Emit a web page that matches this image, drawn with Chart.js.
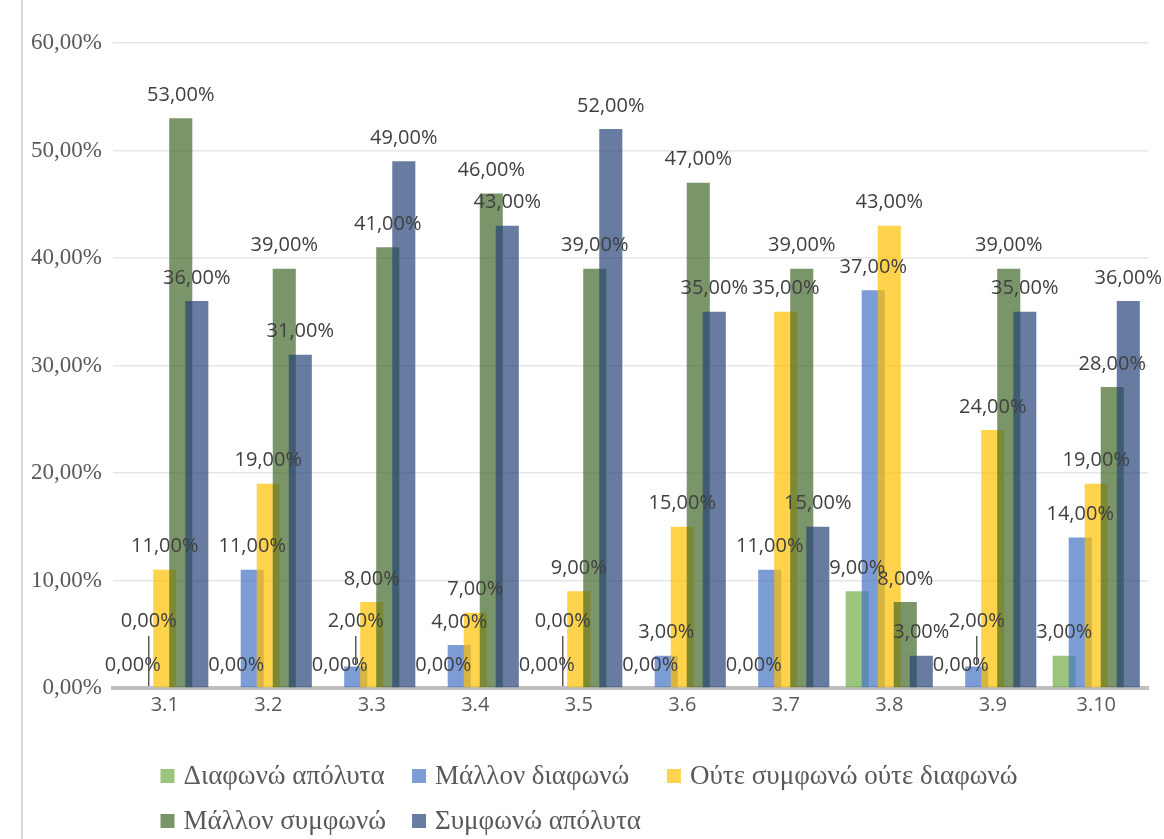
<!DOCTYPE html>
<html>
<head>
<meta charset="utf-8">
<script src="https://cdn.jsdelivr.net/npm/chart.js@4.4.1/dist/chart.umd.min.js"></script>
<style>
  html, body { margin: 0; padding: 0; background: #ffffff; }
  #wrap { width: 1164px; height: 839px; position: relative; }
  canvas { display: block; }
</style>
</head>
<body>
<div id="wrap"><canvas id="c" width="1164" height="839"></canvas></div>
<script>
// ---- data ----
const categories = ['3.1', '3.2', '3.3', '3.4', '3.5', '3.6', '3.7', '3.8', '3.9', '3.10'];
const seriesNames = ['Διαφωνώ απόλυτα', 'Μάλλον διαφωνώ', 'Ούτε συμφωνώ ούτε διαφωνώ', 'Μάλλον συμφωνώ', 'Συμφωνώ απόλυτα'];
const disagreeFully = [0, 0, 0, 0, 0, 0, 0, 9, 0, 3];
const ratherDisagree = [0, 11, 2, 4, 0, 3, 11, 37, 2, 14];
const neitherNor = [11, 19, 8, 7, 9, 15, 35, 43, 24, 19];
const ratherAgree = [53, 39, 41, 46, 39, 47, 39, 8, 39, 28];
const agreeFully = [36, 31, 49, 43, 52, 35, 15, 3, 35, 36];
const yTickValues = [0, 10, 20, 30, 40, 50, 60];

const seriesValues = [disagreeFully, ratherDisagree, neitherNor, ratherAgree, agreeFully];
const seriesColors = [
  'rgba(112,173,71,0.7)',
  'rgba(68,114,196,0.7)',
  'rgba(255,192,0,0.7)',
  'rgba(67,104,43,0.7)',
  'rgba(38,68,120,0.7)'
];

const fmt = v => v.toFixed(2).replace('.', ',') + '%';

const datasets = seriesNames.map((name, k) => ({
  label: name,
  data: seriesValues[k],
  backgroundColor: seriesColors[k],
  borderWidth: 0,
  categoryPercentage: 0.774,
  barPercentage: 1.44
}));

const frameLine = {
  id: 'frameLine',
  beforeDraw(chart) {
    const ctx = chart.ctx;
    ctx.save();
    ctx.fillStyle = '#ffffff';
    ctx.fillRect(0, 0, chart.width, chart.height);
    ctx.strokeStyle = '#d9d9d9';
    ctx.lineWidth = 2;
    ctx.beginPath();
    ctx.moveTo(22, 0);
    ctx.lineTo(22, chart.height);
    ctx.stroke();
    ctx.restore();
  }
};

function drawValueLabels(chart) {
  const ctx = chart.ctx;
  ctx.save();
  ctx.font = '20px "Open Sans"';
  ctx.textAlign = 'center';
  ctx.textBaseline = 'middle';
  const h = 24, gap = 20;
  for (let i = 0; i < categories.length; i++) {
    const placed = [];
    for (let d = 0; d < chart.data.datasets.length; d++) {
      const el = chart.getDatasetMeta(d).data[i];
      const v = chart.data.datasets[d].data[i];
      const text = fmt(v);
      const w = ctx.measureText(text).width;
      const natural = el.y - 23;
      let cy = natural;
      let moved = true;
      while (moved) {
        moved = false;
        for (const p of placed) {
          const ho = Math.min(el.x + w / 2, p.r) - Math.max(el.x - w / 2, p.l);
          const vo = (cy - h / 2 < p.b) && (cy + h / 2 > p.t);
          if (ho > 0.5 * w && vo) {
            cy = p.t - gap - h / 2;
            moved = true;
          }
        }
      }
      if (natural - cy > 15) {
        ctx.strokeStyle = '#595959';
        ctx.lineWidth = 1.5;
        ctx.beginPath();
        ctx.moveTo(el.x, cy + h / 2 + 3);
        ctx.lineTo(el.x, el.y - 2);
        ctx.stroke();
      }
      ctx.fillStyle = '#404040';
      ctx.fillText(text, el.x, cy);
      placed.push({ l: el.x - w / 2, r: el.x + w / 2, t: cy - h / 2, b: cy + h / 2 });
    }
  }
  ctx.restore();
}

// draw series in index order so later series overlap earlier ones, then the value labels
const seriesOrder = {
  id: 'seriesOrder',
  beforeDatasetsDraw(chart) {
    const ctx = chart.ctx;
    const a = chart.chartArea;
    ctx.save();
    ctx.beginPath();
    ctx.rect(a.left, a.top - 60, a.right - a.left, a.bottom - a.top + 60);
    ctx.clip();
    for (let d = 0; d < chart.data.datasets.length; d++) {
      const meta = chart.getDatasetMeta(d);
      if (meta.visible !== false) meta.controller.draw();
    }
    ctx.restore();
    drawValueLabels(chart);
    return false;
  }
};

const customLegend = {
  id: 'customLegend',
  afterDraw(chart) {
    const ctx = chart.ctx;
    ctx.save();
    ctx.font = '27px "Liberation Serif"';
    ctx.textBaseline = 'middle';
    ctx.textAlign = 'left';
    const rows = [[0, 1, 2], [3, 4]];
    const box = 14, boxGap = 9, spacing = 26;
    const itemW = idx => box + boxGap + ctx.measureText(chart.data.datasets[idx].label).width;
    const colW = [];
    rows.forEach(r => r.forEach((idx, c) => { colW[c] = Math.max(colW[c] || 0, itemW(idx)); }));
    let total = 0;
    colW.forEach((w, c) => { total += w + (c < colW.length - 1 ? spacing : 0); });
    const startX = 589 - total / 2;
    const rowY = [chart.chartArea.bottom + 88, chart.chartArea.bottom + 133];
    rows.forEach((r, ri) => {
      let x = startX;
      r.forEach((idx, c) => {
        const ds = chart.data.datasets[idx];
        ctx.fillStyle = ds.backgroundColor;
        ctx.fillRect(x, rowY[ri] - box / 2, box, box);
        ctx.fillStyle = '#595959';
        ctx.fillText(ds.label, x + box + boxGap, rowY[ri] + 1);
        x += colW[c] + spacing;
      });
    });
    ctx.restore();
  }
};

new Chart(document.getElementById('c'), {
  type: 'bar',
  data: { labels: categories, datasets },
  options: {
    responsive: false,
    devicePixelRatio: 1,
    animation: false,
    layout: { padding: { top: 43, right: 16, left: 0, bottom: 0 } },
    plugins: {
      legend: { display: false },
      tooltip: { enabled: false }
    },
    scales: {
      x: {
        z: 1,
        grid: { display: false, drawTicks: false },
        border: { display: true, color: '#bfbfbf', width: 4 },
        ticks: {
          padding: 5,
          autoSkip: false,
          maxRotation: 0,
          color: '#595959',
          font: { family: '"Open Sans"', size: 20 }
        },
        afterFit(scale) { scale.height = 151; }
      },
      y: {
        min: 0,
        max: 60,
        afterBuildTicks(scale) { scale.ticks = yTickValues.map(v => ({ value: v })); },
        grid: {
          drawTicks: false,
          color: ctx => (ctx.tick && ctx.tick.value === 0) ? 'rgba(0,0,0,0)' : '#e6e6e6',
          lineWidth: 1.5
        },
        border: { display: false },
        ticks: {
          padding: 11,
          color: '#595959',
          font: { family: '"Liberation Serif"', size: 23 },
          callback: v => fmt(v)
        },
        afterFit(scale) { scale.width = 113; }
      }
    }
  },
  plugins: [frameLine, seriesOrder, customLegend]
});
</script>
</body>
</html>
